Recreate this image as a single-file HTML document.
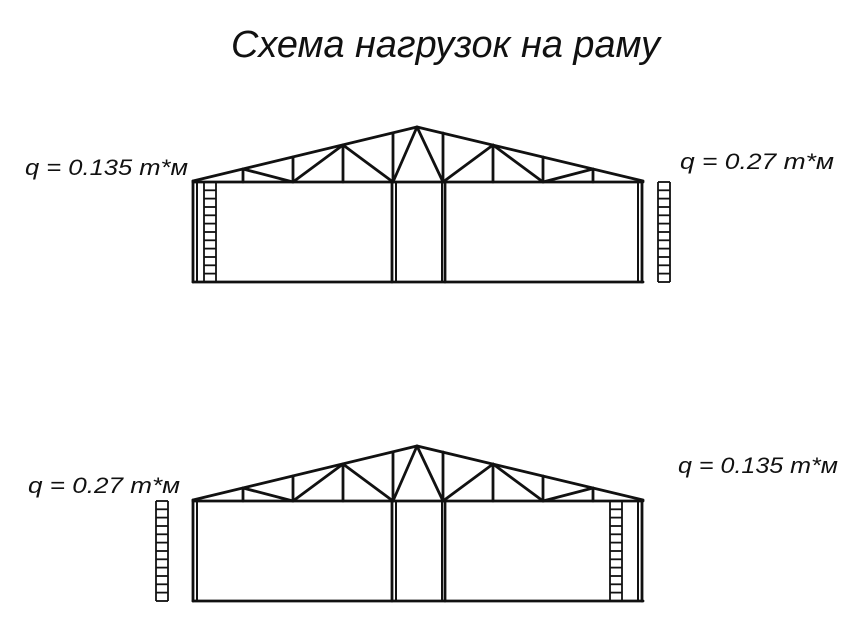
<!DOCTYPE html>
<html><head><meta charset="utf-8"><style>html,body{margin:0;padding:0;background:#fff}svg{display:block}</style></head>
<body>
<svg width="861" height="643" viewBox="0 0 861 643" xmlns="http://www.w3.org/2000/svg">
<defs>
<g id="truss" stroke="#111" stroke-width="2.8" fill="none" stroke-linecap="round">
  <polyline points="193,181 417,127 643,181"/>
  <line x1="193" y1="182" x2="643" y2="182"/>
  <line x1="243" y1="169" x2="243" y2="182"/>
  <line x1="243" y1="169" x2="293" y2="182"/>
  <line x1="293" y1="157" x2="293" y2="182"/>
  <line x1="293" y1="182" x2="343" y2="145"/>
  <line x1="343" y1="145" x2="343" y2="182"/>
  <line x1="343" y1="145" x2="393" y2="182"/>
  <line x1="393" y1="133" x2="393" y2="182"/>
  <line x1="393" y1="182" x2="417" y2="127"/>
  <line x1="593" y1="169" x2="593" y2="182"/>
  <line x1="593" y1="169" x2="543" y2="182"/>
  <line x1="543" y1="157" x2="543" y2="182"/>
  <line x1="543" y1="182" x2="493" y2="145"/>
  <line x1="493" y1="145" x2="493" y2="182"/>
  <line x1="493" y1="145" x2="443" y2="182"/>
  <line x1="443" y1="133" x2="443" y2="182"/>
  <line x1="443" y1="182" x2="417" y2="127"/>
  <line x1="193" y1="181" x2="193" y2="282"/>
  <line x1="197" y1="182" x2="197" y2="282" stroke-width="2"/>
  <line x1="392" y1="182" x2="392" y2="282"/>
  <line x1="396" y1="182" x2="396" y2="282" stroke-width="2"/>
  <line x1="442" y1="182" x2="442" y2="282" stroke-width="2"/>
  <line x1="445" y1="182" x2="445" y2="282"/>
  <line x1="638" y1="182" x2="638" y2="282" stroke-width="2"/>
  <line x1="642" y1="181" x2="642" y2="282"/>
  <line x1="193" y1="282" x2="643" y2="282"/>
</g>
<g id="ladder" stroke="#111" stroke-width="1.8" fill="none">
  <line x1="0" y1="0" x2="0" y2="100"/>
  <line x1="12" y1="0" x2="12" y2="100"/>
  <line x1="0" y1="0" x2="12" y2="0"/><line x1="0" y1="8.3" x2="12" y2="8.3"/>
  <line x1="0" y1="16.6" x2="12" y2="16.6"/><line x1="0" y1="25" x2="12" y2="25"/>
  <line x1="0" y1="33.3" x2="12" y2="33.3"/><line x1="0" y1="41.6" x2="12" y2="41.6"/>
  <line x1="0" y1="50" x2="12" y2="50"/><line x1="0" y1="58.3" x2="12" y2="58.3"/>
  <line x1="0" y1="66.6" x2="12" y2="66.6"/><line x1="0" y1="75" x2="12" y2="75"/>
  <line x1="0" y1="83.3" x2="12" y2="83.3"/><line x1="0" y1="91.6" x2="12" y2="91.6"/>
  <line x1="0" y1="100" x2="12" y2="100"/>
</g>
</defs>
<g font-family="Liberation Sans, sans-serif" font-style="italic" fill="#111">
<text x="231" y="57" font-size="38" textLength="429" lengthAdjust="spacingAndGlyphs">Схема нагрузок на раму</text>
<text x="25" y="175" font-size="22" textLength="163" lengthAdjust="spacingAndGlyphs">q = 0.135 т*м</text>
<text x="680" y="169" font-size="22" textLength="154" lengthAdjust="spacingAndGlyphs">q = 0.27 т*м</text>
<text x="28" y="493" font-size="22" textLength="152" lengthAdjust="spacingAndGlyphs">q = 0.27 т*м</text>
<text x="678" y="473" font-size="22" textLength="160" lengthAdjust="spacingAndGlyphs">q = 0.135 т*м</text>
</g>
<use href="#truss"/>
<use href="#truss" transform="translate(0,319)"/>
<use href="#ladder" transform="translate(204,182)"/>
<use href="#ladder" transform="translate(658,182)"/>
<use href="#ladder" transform="translate(156,501)"/>
<use href="#ladder" transform="translate(610,501)"/>
</svg>
</body></html>
